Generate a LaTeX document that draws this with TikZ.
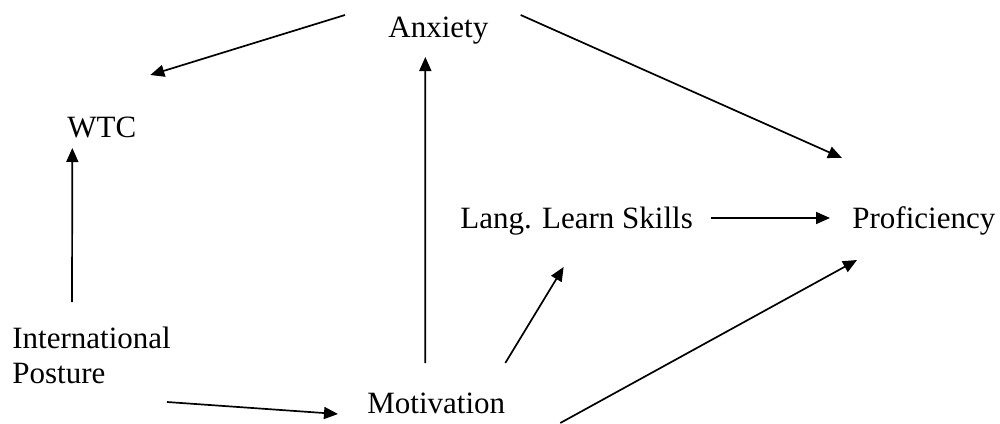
\documentclass[tikz,border=0pt]{standalone}
\usepackage{fontspec}
\setmainfont{Liberation Serif}
\usepackage{xcolor}
\usepackage{tikz}
\usetikzlibrary{arrows.meta,positioning}

\begin{document}
\begin{tikzpicture}[x=0.5pt,y=-0.5pt,font=\fontsize{15.5}{17.5}\selectfont,
  lbl/.style={inner sep=0pt,anchor=base west},
  arr/.style={line width=0.85pt,-{Triangle[length=7pt,width=6pt]}}]
\useasboundingbox (0,0) rectangle (1000,423);
% constructs
\node[lbl] (anx) at (388,37) {Anxiety};
\node[lbl] (wtc) at (67,137) {WTC};
\node[lbl,align=left] (intl) at (12,383) {International\\Posture};
\node[lbl] (mot) at (367,413) {Motivation};
\node[lbl] (lang) at (460,228) {Lang. Learn Skills};
\node[lbl] (prof) at (852,228) {Proficiency};
% paths
\draw[arr] ([shift={(-43,-22)}]anx.base west) -- ([shift={(48.5,-62)}]wtc.base);
\draw[arr] ([shift={(32,-22)}]anx.base east) -- ([shift={(-10,-70)}]prof.base west);
\draw[arr] ([shift={(-11,-50)}]mot.base) -- ([shift={(-13,20)}]anx.base);
\draw[arr] ([shift={(60,-81)}]intl.base west) -- ([shift={(-29.5,11)}]wtc.base);
\draw[arr] ([shift={(155,19)}]intl.base west) -- ([shift={(-29,1)}]mot.base west);
\draw[arr] ([shift={(69,-50)}]mot.base) -- ([shift={(-13,39)}]lang.base);
\draw[arr] ([shift={(124,10)}]mot.base) -- ([shift={(5,32)}]prof.base west);
\draw[arr] ([shift={(18,-10)}]lang.base east) -- ([shift={(-22,-10)}]prof.base west);
\end{tikzpicture}
\end{document}
